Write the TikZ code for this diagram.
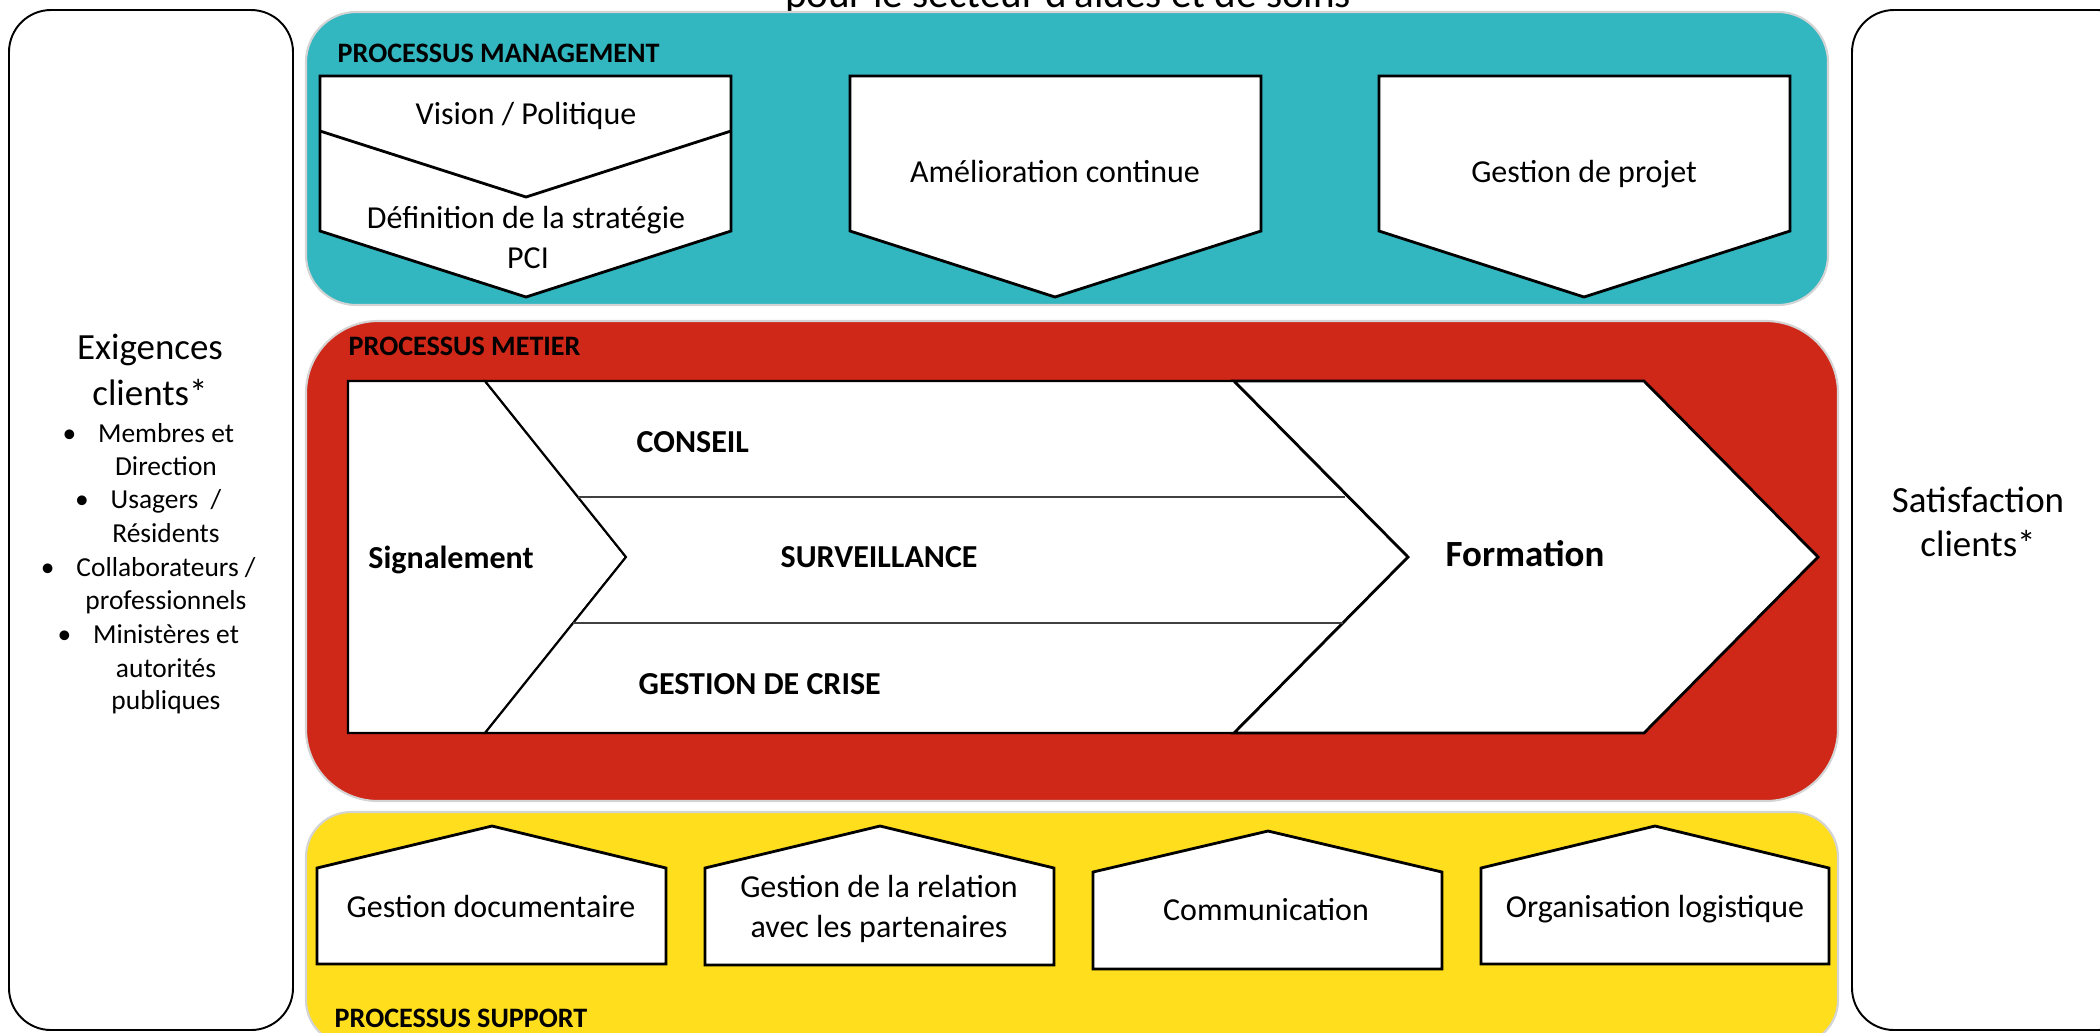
\documentclass[tikz,border=0pt]{standalone}
\usepackage{fontspec}
\setmainfont{Carlito}
\usetikzlibrary{calc}
\definecolor{mteal}{RGB}{50,182,192}
\definecolor{mred}{RGB}{207,40,25}
\definecolor{myellow}{RGB}{255,222,30}
\definecolor{medge}{RGB}{212,212,212}
\tikzset{
  grp/.style={draw=medge, line width=0.6pt},
  sidebox/.style={draw=black, line width=0.55pt, fill=white, rounded corners=0.42cm},
  shp/.style={draw=black, line width=0.8pt, fill=white, line join=miter},
  thinshp/.style={draw=black, line width=0.6pt, fill=white, line join=miter},
  sepline/.style={draw=black!75, line width=0.6pt},
  txt/.style={font=\fontsize{9.1}{11}\selectfont, inner sep=0pt, anchor=base},
  bigtxt/.style={font=\fontsize{10.5}{12}\selectfont, inner sep=0pt, anchor=base},
  boldtxt/.style={font=\bfseries\fontsize{9.1}{11}\selectfont, inner sep=0pt, anchor=base west},
  lbl/.style={font=\bfseries\fontsize{8}{10}\selectfont, inner sep=0pt, anchor=base west},
  itm/.style={font=\fontsize{7.8}{9}\selectfont, inner sep=0pt, anchor=base},
  titletxt/.style={font=\fontsize{11.7}{14}\selectfont, inner sep=0pt, anchor=base},
}
\begin{document}
\begin{tikzpicture}[x=0.01cm,y=-0.01cm]
\useasboundingbox (0,0) rectangle (2100,1032);

% title (second line, cut at the top)
\node[titletxt] (title) at (1068,7) {pour le secteur d'aides et de soins};

% side boxes
\draw[sidebox] (9,10) rectangle (293,1030);
\draw[sidebox] (1852,10) rectangle (2140,1030);

% group boxes
\draw[grp, fill=mteal, rounded corners=0.5cm] (306,12) rectangle (1828,305);
\draw[grp, fill=mred, rounded corners=0.72cm] (306,321) rectangle (1838,801);
\draw[grp, fill=myellow, rounded corners=0.45cm] (306,812) rectangle (1838,1045);

% ---------- management ----------
\node[lbl] (lblmgmt) at (337,62) {PROCESSUS MANAGEMENT};
\draw[shp] (320,76) -- (731,76) -- (731,231) -- (526,297) -- (320,231) -- cycle;
\draw[shp] (320,131) -- (526,197) -- (731,131);
\draw[shp] (850,76) -- (1261,76) -- (1261,231) -- (1055,297) -- (850,231) -- cycle;
\draw[shp] (1379,76) -- (1790,76) -- (1790,231) -- (1584,297) -- (1379,231) -- cycle;
\node[txt] (vision) at (526,124) {Vision / Politique};
\node[txt] (defin) at (526,228) {Définition de la stratégie};
\node[txt] (pci) at (528,268) {PCI};
\node[txt] (amelio) at (1055,182) {Amélioration continue};
\node[txt] (projet) at (1584,182) {Gestion de projet};

% ---------- metier ----------
\node[lbl] (lblmetier) at (348,355) {PROCESSUS METIER};
\draw[thinshp] (348,381) -- (485,381) -- (626,557) -- (485,733) -- (348,733) -- cycle;
\draw[thinshp] (485,381) -- (1234,381) -- (1408,557) -- (1234,733) -- (485,733) -- (626,557) -- cycle;
\draw[shp] (1234,381) -- (1644,381) -- (1818,557) -- (1644,733) -- (1234,733) -- (1408,557) -- cycle;
\draw[sepline] (578,497) -- (1345,497);
\draw[sepline] (573,623) -- (1343,623);
\node[txt, font=\bfseries\fontsize{9.1}{11}\selectfont] (signal) at (451,568) {Signalement};
\node[boldtxt] (conseil) at (636,452) {CONSEIL};
\node[boldtxt] (surv) at (780,567) {SURVEILLANCE};
\node[boldtxt] (crise) at (638,694) {GESTION DE CRISE};
\node[boldtxt, font=\bfseries\fontsize{10.5}{12}\selectfont] (formation) at (1445,566) {Formation};

% ---------- support ----------
\draw[shp] (317,868) -- (492,826) -- (666,868) -- (666,964) -- (317,964) -- cycle;
\draw[shp] (705,868) -- (880,826) -- (1054,868) -- (1054,965) -- (705,965) -- cycle;
\draw[shp] (1093,872) -- (1268,831) -- (1442,872) -- (1442,969) -- (1093,969) -- cycle;
\draw[shp] (1481,868) -- (1655,826) -- (1829,868) -- (1829,964) -- (1481,964) -- cycle;
\node[txt] (gdoc) at (491,917) {Gestion documentaire};
\node[txt] (grela) at (879,897) {Gestion de la relation};
\node[txt] (grelb) at (879,937) {avec les partenaires};
\node[txt] (comm) at (1266,920) {Communication};
\node[txt] (orga) at (1655,917) {Organisation logistique};
\node[lbl] (lblsupport) at (334,1027) {PROCESSUS SUPPORT};

% ---------- left box ----------
\node[bigtxt] (exiga) at (150,359) {Exigences};
\node[bigtxt] (exigb) at (150,405) {clients*};
\node[itm] (m1) at (166,442) {Membres et};
\node[itm] (m2) at (166,475) {Direction};
\node[itm] (m3) at (166,508) {Usagers\ \ /};
\node[itm] (m4) at (166,542) {Résidents};
\node[itm] (m5) at (166,576) {Collaborateurs /};
\node[itm] (m6) at (166,609) {professionnels};
\node[itm] (m7) at (166,643) {Ministères et};
\node[itm] (m8) at (166,677) {autorités};
\node[itm] (m9) at (166,709) {publiques};
\foreach \m/\b in {m1/b1, m3/b2, m5/b3, m7/b4}
  \node[itm] (\b) at ($(\m.base west)+(-28,0)$) {•};

% ---------- right box ----------
\node[bigtxt] (satisa) at (1978,512) {Satisfaction};
\node[bigtxt] (satisb) at (1978,556) {clients*};
\end{tikzpicture}
\end{document}
